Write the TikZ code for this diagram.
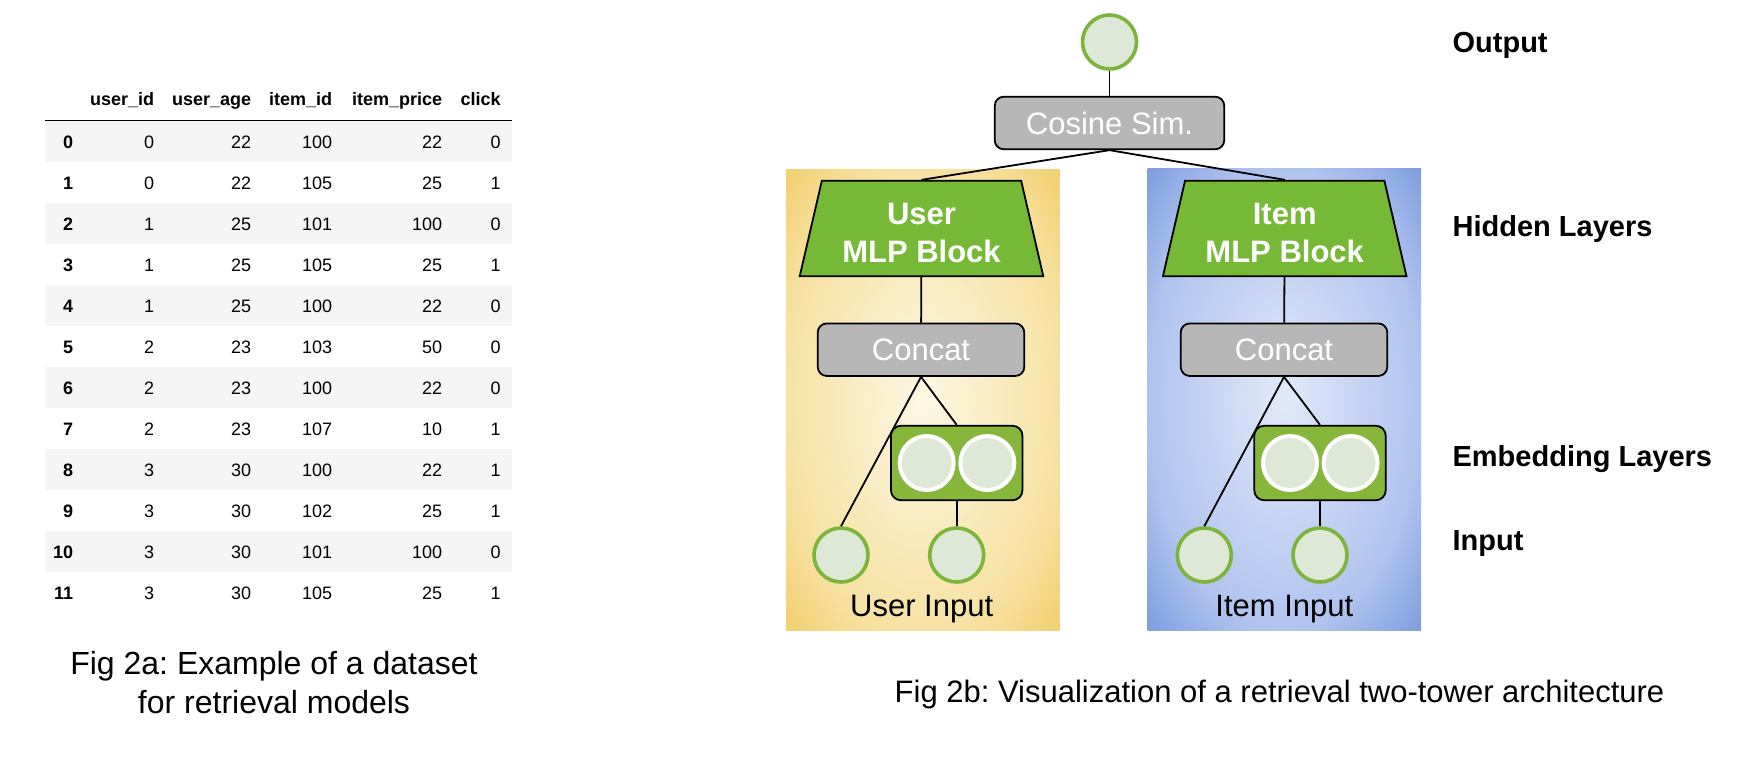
\documentclass[tikz,border=0pt]{standalone}
\usepackage{fontspec}
\setmainfont{Liberation Sans}
\usepackage{tikz}
\usetikzlibrary{shapes.geometric}
\frenchspacing

\definecolor{unitgreen}{HTML}{7DB53A}
\definecolor{unitfill}{HTML}{DDE8D6}
\definecolor{mlpgreen}{HTML}{76B936}
\definecolor{embgreen}{HTML}{86B73A}
\definecolor{opgray}{HTML}{B7B7B7}
\definecolor{rowgray}{HTML}{F5F5F5}
\definecolor{userin}{HTML}{FDF7E4}
\definecolor{usermid}{HTML}{F7E2A4}
\definecolor{userout}{HTML}{F2CF6C}
\definecolor{itemin}{HTML}{E2EAF9}
\definecolor{itemmid}{HTML}{AFC3EE}
\definecolor{itemout}{HTML}{7A9BDF}

\pgfdeclareradialshading{userglow}{\pgfpoint{0bp}{0bp}}{color(0bp)=(userin); color(25bp)=(usermid); color(36bp)=(userout); color(50bp)=(userout)}
\pgfdeclareradialshading{itemglow}{\pgfpoint{0bp}{0bp}}{color(0bp)=(itemin); color(25bp)=(itemmid); color(36bp)=(itemout); color(50bp)=(itemout)}

\begin{document}
\begin{tikzpicture}[x=0.5pt, y=-0.5pt, line width=0.9pt,
    unit/.style={circle, draw=unitgreen, line width=1.8pt, fill=unitfill, minimum size=27pt, inner sep=0pt},
    emb/.style={circle, draw=white, line width=2pt, fill=unitfill, minimum size=27pt, inner sep=0pt},
    op/.style={draw, rounded corners=4.5pt, fill=opgray, text=white, font=\fontsize{15.5}{18}\selectfont, minimum height=26.25pt, inner sep=0pt},
    mlp/.style={trapezium, trapezium angle=76, trapezium stretches=true, draw, fill=mlpgreen, text=white, font=\bfseries\fontsize{15.5}{19}\selectfont, align=center, minimum width=122.75pt, minimum height=47.75pt, inner sep=1pt},
    embbox/.style={draw, rounded corners=5pt, fill=embgreen, minimum width=65.75pt, minimum height=37.25pt},
    tower/.style={anchor=base, inner sep=0pt, font=\fontsize{15.5}{18}\selectfont},
    cell/.style={anchor=base east, inner sep=0pt, font=\fontsize{9}{11}\selectfont},
    head/.style={cell, font=\bfseries\fontsize{9}{11}\selectfont},
    layer/.style={anchor=base west, inner sep=0pt, font=\bfseries\fontsize{14.5}{17}\selectfont},
    caption/.style={anchor=base, inner sep=0pt, font=\fontsize{15.5}{18}\selectfont}]
    \useasboundingbox (0,0) rectangle (1744,772);

    % dataset table
    \foreach \r in {0,2,...,10}
        \fill[rowgray] (45,{120.7+41*\r}) rectangle (511.7,{161.7+41*\r});
    \draw[line width=0.6pt] (45,120.7) -- (511.7,120.7);
    \node[head] (h1) at (155,105.5) {user\_id};
    \node[head] (h2) at (252,105.5) {user\_age};
    \node[head] (h3) at (333,105.5) {item\_id};
    \node[head] (h4) at (443,105.5) {item\_price};
    \node[head] (h5) at (501.5,105.5) {click};
    \foreach \r/\uid/\uage/\iid/\ipr/\clk in {0/0/22/100/22/0, 1/0/22/105/25/1, 2/1/25/101/100/0,
        3/1/25/105/25/1, 4/1/25/100/22/0, 5/2/23/103/50/0, 6/2/23/100/22/0, 7/2/23/107/10/1,
        8/3/30/100/22/1, 9/3/30/102/25/1, 10/3/30/101/100/0, 11/3/30/105/25/1}{
        \node[head] (i\r) at (74,{148+41*\r}) {\r};
        \node[cell] (a\r) at (155,{148+41*\r}) {\uid};
        \node[cell] (b\r) at (252,{148+41*\r}) {\uage};
        \node[cell] (c\r) at (333,{148+41*\r}) {\iid};
        \node[cell] (d\r) at (443,{148+41*\r}) {\ipr};
        \node[cell] (e\r) at (501.5,{148+41*\r}) {\clk};
    }
    \node[caption, font=\fontsize{16}{18}\selectfont] (fa1) at (274,674) {Fig 2a: Example of a dataset};
    \node[caption, font=\fontsize{16}{18}\selectfont] (fa2) at (274,713) {for retrieval models};

    % two towers
    \shade[shading=userglow] (786,169) rectangle (1059.5,630);
    \shade[shading=itemglow] (1147.5,168.5) rectangle (1421,630);

    \node[unit] (o) at (1109.5,42) {};
    \node[op, minimum width=114.75pt] (cs) at (1109.5,123) {Cosine Sim.};

    \node[mlp] (um) at (921.5,228.5) {\rule{0pt}{15pt}User\\MLP Block};
    \node[op, minimum width=103.25pt] (uc) at (921,349.7) {Concat};
    \node[embbox] (ue) at (956.7,463) {};
    \node[emb] (ue1) at ([xshift=-15pt]ue.center) {};
    \node[emb] (ue2) at ([xshift=15.3pt]ue.center) {};
    \node[unit] (ua) at (841,555) {};
    \node[unit] (ub) at (956.7,555) {};
    \node[tower] (ut) at (921.7,616.5) {User Input};

    \node[mlp] (im) at (1284.7,228.5) {\rule{0pt}{15pt}Item\\MLP Block};
    \node[op, minimum width=103.25pt] (ic) at (1284,349.7) {Concat};
    \node[embbox] (ie) at (1320,463) {};
    \node[emb] (ie1) at ([xshift=-15pt]ie.center) {};
    \node[emb] (ie2) at ([xshift=15.3pt]ie.center) {};
    \node[unit] (ia) at (1204.3,555) {};
    \node[unit] (ib) at (1320,555) {};
    \node[tower] (it) at (1284.3,616.5) {Item Input};

    \draw (o) edge (cs);
    \draw (cs.south) edge (um.north) edge (im.north);
    \draw (um) edge (uc);
    \draw (uc.south) edge (ue.north) edge (ua.north);
    \draw (ue) edge (ub);
    \draw (im) edge (ic);
    \draw (ic.south) edge (ie.north) edge (ia.north);
    \draw (ie) edge (ib);

    % layer names
    \node[layer] (lo) at (1451.7,52.5) {Output};
    \node[layer] (lh) at (1451.7,236) {Hidden Layers};
    \node[layer] (le) at (1451.7,466.7) {Embedding Layers};
    \node[layer] (li) at (1451.7,550) {Input};
    \node[caption] (fb) at (1279.5,702) {Fig 2b: Visualization of a retrieval two-tower architecture};
\end{tikzpicture}
\end{document}
